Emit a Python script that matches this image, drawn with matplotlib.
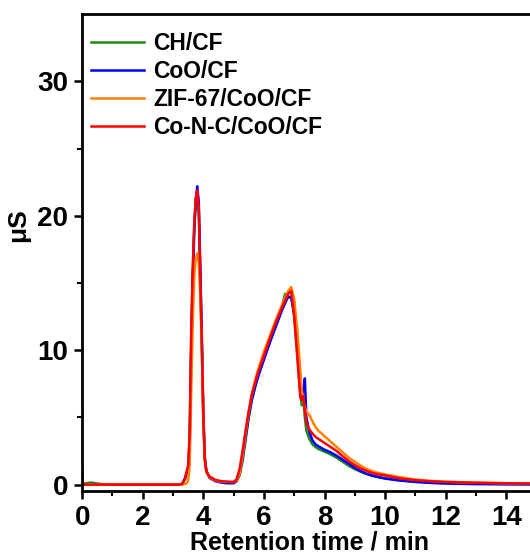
import numpy as np
import matplotlib.pyplot as plt

plt.rcParams['font.family'] = ['Liberation Sans', 'DejaVu Sans']
plt.rcParams['font.weight'] = 'bold'

# retention time grid (min)
t = [0, 0.02, 0.1, 0.3, 0.6, 1, 2, 3, 3.2, 3.3, 3.4, 3.45, 3.5, 3.55, 3.6, 3.65,
     3.7, 3.75, 3.8, 3.85, 3.9, 3.95, 4.0, 4.05, 4.1, 4.2, 4.4, 4.6, 4.8, 5.0,
     5.1, 5.2, 5.3, 5.4, 5.5, 5.6, 5.7, 5.8, 6.0, 6.2, 6.4, 6.6, 6.7, 6.8, 6.9,
     7.0, 7.1, 7.2, 7.25, 7.3, 7.35, 7.4, 7.5, 7.6, 7.7, 7.8, 8.0, 8.2, 8.4,
     8.6, 8.8, 9.0, 9.2, 9.4, 9.6, 9.8, 10, 10.5, 11, 11.5, 12, 13, 14, 15]

# conductivity (uS)
ch_cf = [0.05, 0.05, 0.1, 0.15, 0.05, 0.0, 0.0, 0.0, 0.0, 0.05, 0.4, 0.8, 1.1, 3.5, 11.0, 15.8,
         19.2, 21.0, 21.6, 20.2, 15.2, 10.2, 4.8, 1.8, 1.0, 0.6, 0.3, 0.2, 0.18, 0.15,
         0.3, 0.7, 1.8, 3.4, 5.0, 6.3, 7.2, 8.0, 9.4, 10.7, 12.0, 13.3, 14.2, 13.9, 14.0,
         12.5, 9.8, 6.8, 5.9, 6.4, 5.0, 4.0, 3.4, 3.0, 2.8, 2.65, 2.45, 2.25, 2.0,
         1.7, 1.4, 1.15, 0.95, 0.78, 0.65, 0.55, 0.47, 0.32, 0.22, 0.15, 0.11, 0.07, 0.05, 0.04]

coo_cf = [0.0, 0.0, 0.0, 0.0, 0.0, 0.0, 0.0, 0.0, 0.0, 0.05, 0.5, 0.9, 1.2, 3.0, 10.0, 15.0,
          18.8, 21.2, 22.2, 21.0, 16.2, 11.2, 5.4, 2.0, 1.0, 0.5, 0.25, 0.15, 0.1, 0.1,
          0.25, 0.8, 2.0, 3.6, 5.1, 6.3, 7.2, 8.0, 9.3, 10.6, 11.8, 13.0, 13.5, 14.0, 13.9,
          12.8, 10.5, 7.5, 6.6, 7.0, 7.9, 5.0, 3.9, 3.3, 3.0, 2.85, 2.6, 2.4, 2.15,
          1.85, 1.55, 1.25, 1.0, 0.8, 0.65, 0.55, 0.45, 0.3, 0.2, 0.13, 0.08, 0.04, 0.02, 0.01]

zif_coo_cf = [0.0, 0.0, 0.0, 0.0, 0.0, 0.0, 0.0, 0.0, 0.0, 0.0, 0.05, 0.1, 0.3, 1.5, 7.0, 12.0,
              15.5, 16.8, 17.2, 16.5, 14.0, 10.0, 4.8, 1.8, 0.9, 0.55, 0.3, 0.22, 0.2, 0.18,
              0.3, 0.8, 2.2, 3.9, 5.4, 6.7, 7.7, 8.5, 9.9, 11.1, 12.3, 13.4, 13.9, 14.4, 14.7,
              13.8, 11.5, 8.5, 7.0, 6.3, 5.8, 5.4, 5.2, 4.7, 4.3, 4.0, 3.6, 3.2, 2.8,
              2.4, 2.0, 1.7, 1.4, 1.15, 0.98, 0.85, 0.76, 0.55, 0.38, 0.28, 0.21, 0.14, 0.1, 0.08]

conc_coo_cf = [1.3, 0.0, 0.0, 0.0, 0.0, 0.0, 0.0, 0.0, 0.0, 0.05, 0.5, 1.0, 1.4, 4.0, 11.5, 16.0,
               19.5, 21.3, 21.9, 20.5, 15.5, 10.5, 5.0, 1.8, 1.0, 0.6, 0.35, 0.25, 0.22, 0.2,
               0.4, 1.2, 2.6, 4.1, 5.5, 6.7, 7.5, 8.3, 9.6, 10.9, 12.1, 13.2, 13.7, 14.2, 14.4,
               12.5, 9.5, 6.5, 6.3, 6.6, 5.5, 4.6, 4.1, 3.8, 3.55, 3.4, 3.1, 2.8, 2.5,
               2.1, 1.75, 1.45, 1.2, 1.0, 0.85, 0.75, 0.68, 0.45, 0.33, 0.25, 0.2, 0.14, 0.1, 0.08]

labels = ['CH/CF', 'CoO/CF', 'ZIF-67/CoO/CF', 'Co-N-C/CoO/CF']
colors = ['#1a8a1a', '#0000ff', '#ff8000', '#ff0000']

fig = plt.figure(figsize=(5.3, 5.56), dpi=100)
ax = fig.add_axes([0.155, 0.1175, 0.8575, 0.857])

for y, lab, c in zip([ch_cf, coo_cf, zif_coo_cf, conc_coo_cf], labels, colors):
    ax.plot(t, y, color=c, lw=1.8, label=lab)

ax.set_xlim(0, 15)
ax.set_ylim(-0.45, 35)
ax.set_xticks(np.arange(0, 15, 2))
ax.set_xticks(np.arange(1, 15, 2), minor=True)
ax.set_yticks([0, 10, 20, 30])
ax.set_yticks([5, 15, 25], minor=True)
ax.tick_params(which='major', direction='out', length=6, width=1.8, labelsize=20, pad=4)
ax.tick_params(which='minor', direction='out', length=3.5, width=1.5)
for s in ax.spines.values():
    s.set_linewidth(2.0)

ax.set_xlabel('Retention time / min', fontsize=18, fontweight='bold', labelpad=0)
ax.set_ylabel('μS', fontsize=19, fontweight='bold')
ax.yaxis.set_label_coords(-0.115, 0.557)

leg = ax.legend(loc='upper left', bbox_to_anchor=(0.02, 0.962), frameon=False,
                fontsize=16.5, handlelength=2.3, handletextpad=0.4, labelspacing=0.22,
                borderaxespad=0, borderpad=0)
for line in leg.get_lines():
    line.set_linewidth(1.8)

fig.savefig('out.png', dpi=100)
